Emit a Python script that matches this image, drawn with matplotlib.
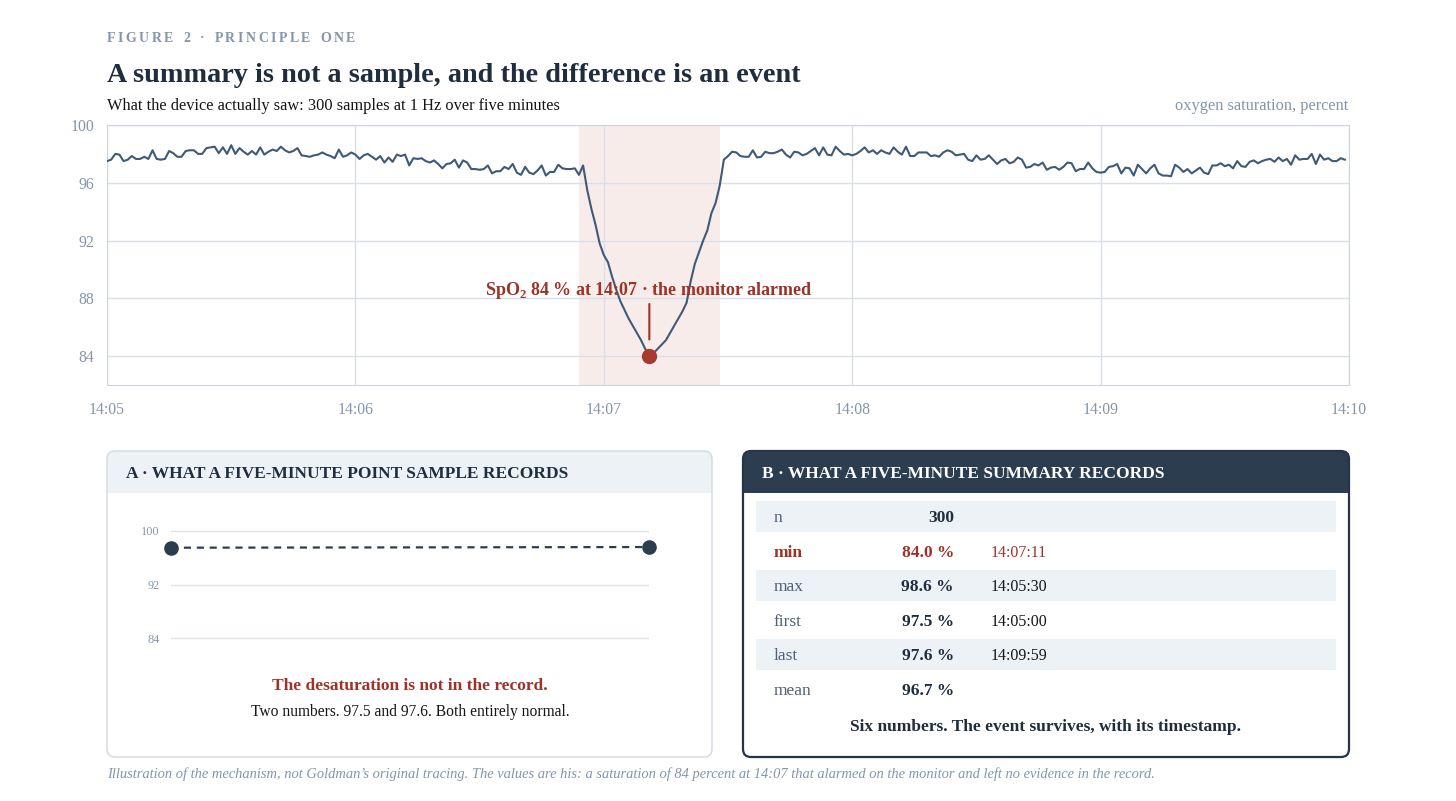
import numpy as np
import matplotlib
matplotlib.use("Agg")
import matplotlib.pyplot as plt
from matplotlib.patches import FancyBboxPatch, Rectangle

plt.rcParams['font.family'] = ['Liberation Serif', 'DejaVu Serif']
plt.rcParams['mathtext.fontset'] = 'custom'
plt.rcParams['mathtext.rm'] = 'Liberation Serif'
plt.rcParams['mathtext.bf'] = 'Liberation Serif:bold'

# colours
NAVY = '#1f2d3d'
HEAD = '#2c3d50'
SLATE = '#3e5a78'
GRAY = '#8496ab'
RED = '#9e3227'
GRID = '#d8dfe6'
PALE = '#edf2f7'

# ---- data ----
# SpO2 at 1 Hz, 14:05:00 .. 14:09:59
spo2 = [
    97.5, 97.6, 98.0, 97.95, 97.5, 97.6, 97.85, 97.65, 97.65, 97.8,
    97.65, 98.25, 97.65, 97.6, 97.65, 98.2, 98.05, 97.8, 97.8, 98.2,
    98.25, 98.25, 98.0, 98.0, 98.4, 98.45, 98.5, 98.05, 98.45, 98.0,
    98.6, 98.0, 98.4, 98.15, 97.95, 98.2, 97.95, 98.45, 97.95, 98.15,
    98.3, 98.2, 98.5, 98.25, 98.1, 98.2, 98.4, 97.9, 97.85, 97.8,
    97.9, 97.95, 98.1, 97.95, 97.85, 97.7, 98.3, 97.8, 97.9, 98.1,
    97.95, 97.65, 97.9, 98.0, 97.8, 97.6, 97.85, 97.4, 97.75, 97.45,
    97.95, 97.85, 97.95, 97.2, 97.7, 97.65, 97.7, 97.5, 97.4, 97.55,
    97.3, 97.0, 97.3, 97.35, 97.6, 97.05, 97.55, 97.4, 96.95, 96.95,
    96.9, 96.95, 97.2, 96.65, 96.8, 96.8, 97.1, 96.95, 97.3, 96.7,
    96.55, 97.1, 96.7, 96.6, 96.85, 97.2, 96.5, 96.75, 96.75, 97.25,
    97.0, 96.95, 96.95, 97.0, 96.55, 97.2, 95.5, 94.2, 93.1, 91.8,
    91.0, 90.5, 89.5, 88.6, 87.8, 87.2, 86.6, 86.1, 85.6, 85.1,
    84.5, 84.0, 84.2, 84.5, 84.8, 85.1, 85.6, 86.1, 86.6, 87.1,
    87.7, 89.2, 90.4, 91.2, 92.0, 92.7, 93.9, 94.6, 95.8, 97.6,
    97.85, 98.15, 98.1, 97.85, 97.8, 97.8, 98.25, 97.75, 97.8, 98.15,
    98.05, 98.05, 98.15, 98.3, 97.95, 97.75, 98.15, 98.1, 97.9, 98.0,
    98.2, 98.4, 97.9, 98.45, 97.95, 97.9, 98.5, 98.2, 97.95, 98.0,
    97.9, 98.0, 98.2, 98.45, 98.1, 98.25, 98.0, 98.25, 98.1, 98.0,
    98.45, 98.15, 97.95, 98.5, 97.85, 97.85, 98.1, 98.1, 98.1, 97.85,
    97.9, 97.8, 98.1, 98.25, 98.15, 97.9, 97.95, 98.0, 97.6, 97.5,
    97.9, 97.6, 97.65, 97.9, 97.6, 97.3, 97.55, 97.65, 97.35, 97.45,
    97.75, 97.6, 97.05, 97.1, 97.3, 97.2, 97.4, 96.9, 97.05, 97.1,
    96.9, 97.1, 97.4, 97.35, 96.8, 96.95, 96.95, 97.4, 97.0, 96.75,
    96.7, 96.75, 97.1, 97.15, 97.3, 96.65, 97.05, 97.0, 96.5, 97.25,
    96.95, 96.65, 97.0, 97.25, 96.65, 96.5, 96.5, 96.45, 97.25, 97.05,
    96.75, 96.95, 96.65, 96.85, 97.05, 96.7, 96.6, 97.2, 97.2, 97.35,
    97.15, 97.25, 97.0, 97.5, 97.15, 97.1, 97.45, 97.55, 97.35, 97.5,
    97.6, 97.65, 97.45, 97.75, 97.5, 97.65, 97.25, 97.9, 97.6, 97.65,
    97.65, 98.0, 97.3, 97.95, 97.6, 97.7, 97.5, 97.5, 97.7, 97.6,
]
seconds = np.arange(len(spo2))
minute_ticks = [0, 60, 120, 180, 240, 300]
minute_labels = ['14:05', '14:06', '14:07', '14:08', '14:09', '14:10']
spo2_ticks = [84, 88, 92, 96, 100]
event_start, event_end = 114, 148

# what a point sample at 14:05:00 and 14:09:59 keeps
sample_seconds = [0, 299]
sample_values = [97.5, 97.6]
sample_ticks = [84, 92, 100]

# what a summary keeps
stat_names = ['n', 'min', 'max', 'first', 'last', 'mean']
stat_values = ['300', '84.0 %', '98.6 %', '97.5 %', '97.6 %', '96.7 %']
stat_times = ['', '14:07:11', '14:05:30', '14:05:00', '14:09:59', '']

W, H = 1456, 801
fig = plt.figure(figsize=(W / 100, H / 100), dpi=100)
P = fig.dpi_scale_trans


def px(x, y):
    return x / 100, (H - y) / 100


def axes_px(x0, y0, x1, y1):
    return [x0 / W, 1 - y1 / H, (x1 - x0) / W, (y1 - y0) / H]


def ftext(x, y, s, **kw):
    # va='center' sits a little high for serif text, nudge it down
    return fig.text(*px(x, y + 2), s, transform=P, **kw)


# ---- header texts ----
renderer = fig.canvas.get_renderer()
cx = 107
for ch in 'FIGURE 2 · PRINCIPLE ONE':
    t = ftext(cx, 36, ch, fontsize=10, fontweight='bold', color=GRAY, va='center')
    cx += t.get_window_extent(renderer).width + 2.5
    if ch == ' ':
        cx += 1.3

ftext(107, 73, 'A summary is not a sample, and the difference is an event',
      fontsize=20.3, fontweight='bold', color=NAVY, va='center')
ftext(107, 104, 'What the device actually saw: 300 samples at 1 Hz over five minutes',
      fontsize=11.8, color='#151515', va='center')
ftext(1348, 104, 'oxygen saturation, percent', fontsize=11.8, color=GRAY,
      va='center', ha='right')

# ---- main trace ----
ax = fig.add_axes(axes_px(107, 125, 1349, 385))
ax.axvspan(event_start, event_end, color='#f8eceb', lw=0, zorder=0)
ax.plot(seconds, spo2, color=SLATE, lw=1.5, zorder=3)
imin = int(np.argmin(spo2))
ax.plot(seconds[imin], spo2[imin], 'o', ms=10, color='#a8392d', zorder=5)
ax.annotate('', xy=(seconds[imin], spo2[imin]), xytext=(0, 37.5),
            textcoords='offset points',
            arrowprops=dict(arrowstyle='-', color=RED, lw=1.5, shrinkA=0, shrinkB=12))
ax.annotate(r'SpO$_\mathbf{2}$ 84 % at 14:07 · the monitor alarmed',
            xy=(seconds[imin], spo2[imin]), xytext=(0, 47.5), textcoords='offset points',
            ha='center', va='center', fontsize=13, fontweight='bold', color=RED,
            zorder=6)
ax.set_xlim(0, 300)
ax.set_ylim(82, 100)
ax.set_xticks(minute_ticks, minute_labels)
ax.set_yticks(spo2_ticks)
ax.grid(color=GRID, lw=1)
ax.set_axisbelow(True)
for s in ax.spines.values():
    s.set_color('#cdd6df')
ax.tick_params(length=0, labelsize=11.3, labelcolor=GRAY)
ax.tick_params(axis='y', pad=9)
ax.tick_params(axis='x', pad=12.5)


# ---- panels ----
def panel(x0, y0, x1, y1, edge, head, lw):
    box = FancyBboxPatch(px(x0, y1), (x1 - x0) / 100, (y1 - y0) / 100,
                         boxstyle='round,pad=0,rounding_size=0.08',
                         transform=P, facecolor='white', edgecolor='none', zorder=0)
    fig.add_artist(box)
    band = Rectangle(px(x0, 493), (x1 - x0) / 100, (493 - y0) / 100,
                     transform=P, facecolor=head, edgecolor='none', zorder=0)
    fig.add_artist(band)
    band.set_clip_path(box)
    rim = FancyBboxPatch(px(x0, y1), (x1 - x0) / 100, (y1 - y0) / 100,
                         boxstyle='round,pad=0,rounding_size=0.08',
                         transform=P, facecolor='none', edgecolor=edge, lw=lw,
                         zorder=0)
    fig.add_artist(rim)


panel(107, 451, 712, 757, '#d0d9e2', PALE, 1.0)
panel(743, 451, 1349, 757, '#25344a', HEAD, 1.6)

ftext(126, 472, 'A · WHAT A FIVE-MINUTE POINT SAMPLE RECORDS', fontsize=12.5,
      fontweight='bold', color=NAVY, va='center')
ftext(762, 472, 'B · WHAT A FIVE-MINUTE SUMMARY RECORDS', fontsize=12.5,
      fontweight='bold', color='white', va='center')

# panel A: the two point samples
ax2 = fig.add_axes(axes_px(171, 524.3, 649, 651.4))
ax2.set_zorder(3)
ax2.patch.set_alpha(0)
ax2.plot(sample_seconds, sample_values, ls=(0, (3.2, 2.6)), color=HEAD, lw=1.6,
         clip_on=False)
ax2.plot(sample_seconds, sample_values, 'o', ms=9.5, color=HEAD, clip_on=False,
         zorder=4)
ax2.set_xlim(sample_seconds[0], sample_seconds[-1])
ax2.set_ylim(82, 101)
ax2.set_xticks([])
ax2.set_yticks(sample_ticks)
ax2.grid(axis='y', color='#dde3ea', lw=1)
ax2.set_axisbelow(True)
for s in ax2.spines.values():
    s.set_visible(False)
ax2.tick_params(length=0, labelsize=8.8, labelcolor=GRAY, pad=8)

ftext(410, 684, 'The desaturation is not in the record.', fontsize=12.5,
      fontweight='bold', color=RED, ha='center', va='center')
ftext(410, 710, 'Two numbers. %.1f and %.1f. Both entirely normal.' % tuple(sample_values),
      fontsize=11.2, color='#151515', ha='center', va='center')

# panel B: the summary table
for i, (name, val, tm) in enumerate(zip(stat_names, stat_values, stat_times)):
    yc = 516 + 34.6 * i
    if i % 2 == 0:
        fig.add_artist(Rectangle(px(756, yc + 15.5), 580 / 100, 31 / 100,
                                 transform=P, facecolor=PALE, edgecolor='none'))
    hot = name == 'min'
    ftext(774, yc, name, fontsize=12.5, va='center',
          color=RED if hot else '#4d6076', fontweight='bold' if hot else 'normal')
    ftext(954, yc, val, fontsize=12.5, va='center', ha='right', fontweight='bold',
          color=RED if hot else NAVY)
    ftext(991, yc, tm, fontsize=11.5, va='center', color=RED if hot else '#151515')

ftext(1046, 725, 'Six numbers. The event survives, with its timestamp.', fontsize=12.5,
      fontweight='bold', color=NAVY, ha='center', va='center')

ftext(107, 772, 'Illustration of the mechanism, not Goldman’s original tracing. '
      'The values are his: a saturation of 84 percent at 14:07 that alarmed on the '
      'monitor and left no evidence in the record.',
      fontsize=10.45, style='italic', color=GRAY, va='center')

fig.savefig('out.png', dpi=100)
